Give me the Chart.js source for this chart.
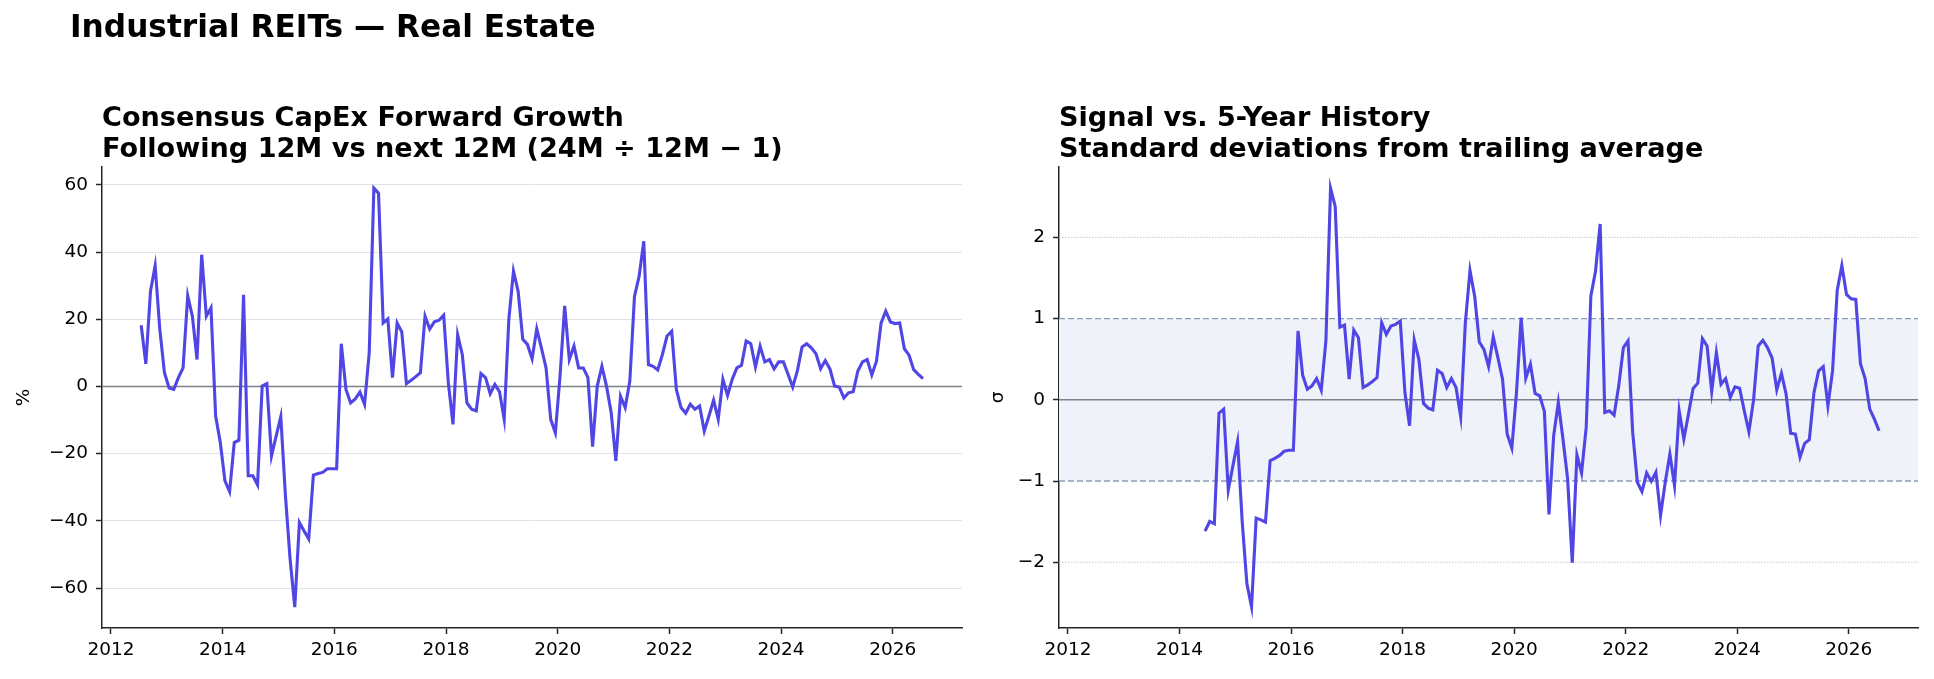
<!DOCTYPE html>
<html lang="en">
<head>
  <meta charset="UTF-8" />
  <title>Industrial REITs — Real Estate</title>
  <script src="https://cdn.jsdelivr.net/npm/chart.js"></script>
  <style>
    html, body { margin: 0; padding: 0; background: #fff; }
    #wrap { position: relative; width: 1934px; height: 679px; overflow: hidden; }
    canvas { position: absolute; top: 0; }
    #leftChart { left: 0; }
    #rightChart { left: 967px; }
  </style>
</head>
<body>
<div id="wrap">
  <canvas id="leftChart" width="967" height="679"></canvas>
  <canvas id="rightChart" width="967" height="679"></canvas>
</div>
<script>
  // monthly series, first observation Jul 2012
  const startYear = 2012;
  const startMonth = 7;

  // consensus capex forward growth, %
  const capexGrowth = [
    18.2, 6.7, 28.3, 35.9, 17, 4.1, -0.5, -0.9, 2.6, 5.5, 27, 20.9,
    8, 39.2, 20.9, 23.4, -8.8, -16.7, -28.1, -31.3, -16.7, -16, 27.3, -26.6,
    -26.6, -29.3, 0.1, 0.8, -20.7, -14.8, -9, -32.6, -51.4, -65.7, -40.5, -43,
    -45.4, -26.4, -25.9, -25.6, -24.5, -24.5, -24.5, 12.7, -0.9, -4.9, -3.7, -1.7,
    -5.3, 10, 59, 57.5, 18.9, 20.1, 2.6, 18.9, 16.2, 0.8, 1.8, 2.9,
    4.1, 20.9, 17.1, 19.2, 19.7, 21.2, 1.1, -11.3, 15.4, 9.5, -4.9, -6.8,
    -7.3, 3.8, 2.6, -2.2, 0.6, -1.6, -9.8, 19.9, 34.3, 28.3, 14, 12.5,
    8.2, 17.1, 11.5, 5.5, -9.8, -13.8, 3, 24, 8, 12, 5.5, 5.5,
    2.6, -17.9, 0.1, 6, 0, -7.8, -22.2, -2.9, -6.3, 1.6, 26.8, 32.8,
    43.2, 6.5, 6, 4.9, 9.5, 15, 16.4, -0.9, -6.3, -8, -5.3, -6.8,
    -5.8, -13.3, -8.8, -4.1, -9.8, 2.1, -2.7, 2.1, 5.5, 6.3, 13.5, 12.7,
    5.8, 12, 7.3, 8, 5.2, 7.3, 7.3, 3.6, -0.2, 4.6, 11.7, 12.7,
    11.5, 9.7, 5.3, 7.7, 5.2, 0.1, -0.2, -3.4, -1.9, -1.6, 4.6, 7.3,
    8, 3.4, 7.5, 18.9, 22.4, 19.2, 18.7, 18.9, 11.2, 9.3, 5, 3.6,
    2.3
  ];

  // z-score vs trailing 5y history, starts Jun 2014 (23 months later)
  const signalOffset = 23;
  const signalSigma = [
    -1.617, -1.498, -1.527, -0.164, -0.115, -1.109, -0.81, -0.516, -1.506, -2.264, -2.55, -1.457,
    -1.478, -1.506, -0.749, -0.72, -0.688, -0.634, -0.622, -0.622, 0.847, 0.303, 0.131, 0.172,
    0.262, 0.119, 0.725, 2.607, 2.382, 0.896, 0.921, 0.254, 0.86, 0.765, 0.151, 0.184,
    0.225, 0.274, 0.95, 0.806, 0.909, 0.929, 0.97, 0.09, -0.319, 0.737, 0.499, -0.045,
    -0.102, -0.123, 0.364, 0.323, 0.151, 0.262, 0.151, -0.209, 0.95, 1.592, 1.277, 0.712,
    0.622, 0.409, 0.774, 0.52, 0.254, -0.422, -0.594, 0.09, 1.011, 0.266, 0.438, 0.078,
    0.049, -0.143, -1.412, -0.442, -0.033, -0.483, -0.974, -2.006, -0.679, -0.9, -0.34, 1.277,
    1.584, 2.165, -0.156, -0.135, -0.188, 0.172, 0.643, 0.725, -0.401, -1.015, -1.13, -0.9,
    -1.003, -0.892, -1.424, -1.015, -0.667, -1.056, -0.135, -0.483, -0.176, 0.139, 0.205, 0.753,
    0.663, 0.102, 0.581, 0.192, 0.262, 0.029, 0.16, 0.143, -0.135, -0.393, -0.004, 0.663,
    0.733, 0.643, 0.512, 0.123, 0.327, 0.07, -0.413, -0.422, -0.708, -0.536, -0.491, 0.09,
    0.356, 0.409, -0.074, 0.356, 1.347, 1.654, 1.298, 1.244, 1.236, 0.446, 0.262, -0.115,
    -0.237, -0.381
  ];

  const yearTicks = [2012, 2014, 2016, 2018, 2020, 2022, 2024, 2026];
  const growthTicks = [-60, -40, -20, 0, 20, 40, 60];
  const sigmaTicks = [-2, -1, 0, 1, 2];

  const LINE = '#4f46e5';
  const FONT = 'DejaVu Sans';
  Chart.defaults.font.family = FONT;
  Chart.defaults.font.size = 18.5;
  Chart.defaults.color = '#000';

  // month index -> decimal year (mid-month)
  const toYear = i => startYear + (startMonth - 0.5 + i) / 12;
  const growthPts = capexGrowth.map((v, i) => ({ x: toYear(i), y: v }));
  const sigmaPts = signalSigma.map((v, i) => ({ x: toYear(i + signalOffset), y: v }));

  const minusFmt = v => (v < 0 ? '\u2212' + Math.abs(v) : String(v));

  // titles, suptitle and rotated y label
  const panelText = {
    id: 'panelText',
    afterDraw(chart, args, opts) {
      const ctx = chart.ctx, a = chart.chartArea;
      ctx.save();
      ctx.fillStyle = '#000';
      ctx.textAlign = 'left';
      ctx.textBaseline = 'alphabetic';
      if (opts.suptitle) {
        ctx.font = 'bold 31.2px "' + FONT + '"';
        ctx.fillText(opts.suptitle, 70, 37);
      }
      ctx.font = 'bold 27.1px "' + FONT + '"';
      opts.title.forEach((line, i) => ctx.fillText(line, a.left, a.top - 41 + i * 31));
      ctx.translate(a.left - opts.yLabelGap, (a.top + a.bottom) / 2);
      ctx.rotate(-Math.PI / 2);
      ctx.textAlign = 'center';
      ctx.textBaseline = 'middle';
      ctx.font = '18.5px "' + FONT + '"';
      ctx.fillText(opts.yLabel, 0, 0);
      ctx.restore();
    }
  };

  // shaded band + horizontal reference lines
  const refLines = {
    id: 'refLines',
    beforeDatasetsDraw(chart, args, opts) {
      const { ctx, chartArea: a, scales: { y } } = chart;
      ctx.save();
      if (opts.band) {
        const y1 = y.getPixelForValue(opts.band[1]);
        const y0 = y.getPixelForValue(opts.band[0]);
        ctx.fillStyle = '#eff3f9';
        ctx.fillRect(a.left, y1, a.right - a.left, y0 - y1);
      }
      (opts.lines || []).forEach(l => {
        const py = y.getPixelForValue(l.value);
        ctx.beginPath();
        ctx.setLineDash(l.dash || []);
        ctx.strokeStyle = l.color;
        ctx.lineWidth = l.width;
        ctx.moveTo(a.left, py);
        ctx.lineTo(a.right, py);
        ctx.stroke();
      });
      ctx.restore();
    }
  };

  function makeChart(id, points, yTicks, yMin, yMax, padRight, yWidth, plugOpts, gridColor) {
    return new Chart(document.getElementById(id), {
      type: 'line',
      data: {
        datasets: [{
          data: points,
          borderColor: LINE,
          borderWidth: 3.1,
          pointRadius: 0,
          tension: 0,
          fill: false
        }]
      },
      options: {
        responsive: false,
        animation: false,
        devicePixelRatio: 1,
        layout: { padding: { top: 167, right: padRight, left: 0, bottom: 0 } },
        plugins: {
          legend: { display: false },
          tooltip: { enabled: false },
          panelText: plugOpts.text,
          refLines: plugOpts.ref
        },
        scales: {
          x: {
            type: 'linear',
            min: 2011.84,
            max: 2027.24,
            afterBuildTicks: s => { s.ticks = yearTicks.map(v => ({ value: v })); },
            afterFit: s => { s.height = 51; },
            ticks: { callback: v => String(v), padding: 5, maxRotation: 0 },
            grid: { drawOnChartArea: false, tickLength: 6, tickColor: '#262626', tickWidth: 1.5 },
            border: { color: '#262626', width: 1.5 }
          },
          y: {
            min: yMin,
            max: yMax,
            afterBuildTicks: s => { s.ticks = yTicks.map(v => ({ value: v })); },
            afterFit: s => { s.width = yWidth; },
            ticks: { callback: minusFmt, padding: 8 },
            grid: {
              drawOnChartArea: !!gridColor,
              color: gridColor || 'rgba(0,0,0,0)',
              lineWidth: 1,
              tickLength: 6,
              tickColor: '#262626',
              tickWidth: 1.5
            },
            border: { color: '#262626', width: 1.5 }
          }
        }
      },
      plugins: [refLines, panelText]
    });
  }

  makeChart('leftChart', growthPts, growthTicks, -71.9, 65.3, 5, 102, {
    text: {
      suptitle: 'Industrial REITs \u2014 Real Estate',
      title: ['Consensus CapEx Forward Growth', 'Following 12M vs next 12M (24M \u00f7 12M \u2212 1)'],
      yLabel: '%',
      yLabelGap: 78
    },
    ref: { lines: [{ value: 0, color: '#7c8089', width: 1.5 }] }
  }, '#e1e3e9');

  makeChart('rightChart', sigmaPts, sigmaTicks, -2.81, 2.867, 16, 92, {
    text: {
      title: ['Signal vs. 5-Year History', 'Standard deviations from trailing average'],
      yLabel: '\u03c3',
      yLabelGap: 61
    },
    ref: {
      band: [-1, 1],
      lines: [
        { value: 2, color: '#bcc7d7', width: 1, dash: [1.5, 1.5] },
        { value: -2, color: '#bcc7d7', width: 1, dash: [1.5, 1.5] },
        { value: 1, color: '#8e9cb3', width: 1.3, dash: [6, 3] },
        { value: -1, color: '#8e9cb3', width: 1.3, dash: [6, 3] },
        { value: 0, color: '#7c8089', width: 1.5 }
      ]
    }
  }, null);
</script>
</body>
</html>
